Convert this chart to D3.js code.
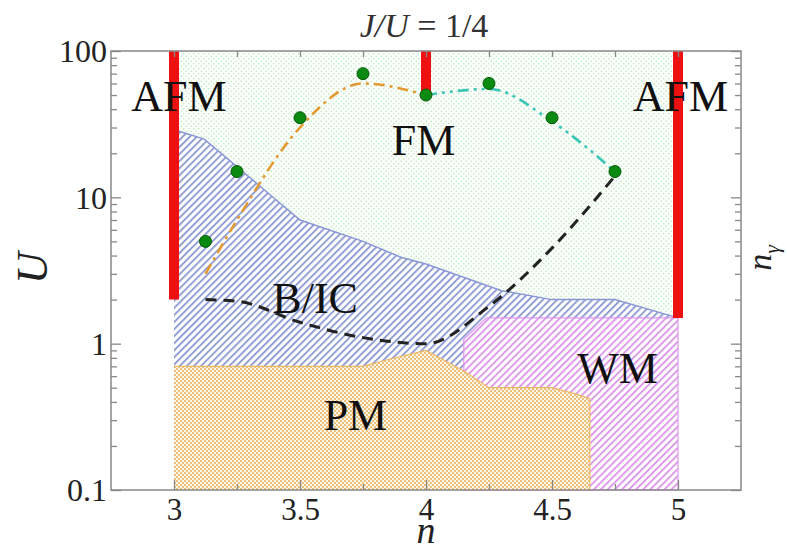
<!DOCTYPE html>
<html><head><meta charset="utf-8">
<script src="https://cdn.jsdelivr.net/npm/d3@7"></script>
<style>body{margin:0;background:#fff} svg{display:block} text{font-family:"Liberation Serif","Times New Roman",serif}</style>
</head><body><svg id="c" width="787" height="550"></svg>
<script>
// ---- data ----
const xTicks = [3, 3.5, 4, 4.5, 5];
const xTickLabels = ["3", "3.5", "4", "4.5", "5"];
const xMinor = [3.25, 3.75, 4.25, 4.75];
const yTicks = [0.1, 1, 10, 100];
const yTickLabels = ["0.1", "1", "10", "100"];
const dotN = [3.125, 3.25, 3.5, 3.75, 4, 4.25, 4.5, 4.75];
const dotU = [5, 15, 35, 70, 50, 60, 35, 15];
const orangeN = [3.125, 3.25, 3.5, 3.75, 4];
const orangeU = [3, 7, 30, 60, 50];
const cyanN = [4, 4.25, 4.5, 4.75];
const cyanU = [50, 55, 33, 15];
const blackN = [3.125, 3.25, 3.5, 3.75, 4, 4.25, 4.5, 4.75];
const blackU = [2, 1.95, 1.4, 1.1, 1.0, 1.8, 4.5, 14];
const bicTopN = [3, 3.12, 3.5, 3.75, 3.9, 4, 4.3, 4.5, 4.75, 5];
const bicTopU = [29, 25, 7, 5, 3.9, 3.5, 2.3, 2.0, 2.0, 1.5];
const pmTopN = [3, 3.75, 3.85, 4, 4.15, 4.25, 4.5, 4.6, 4.65];
const pmTopU = [0.7, 0.7, 0.78, 0.9, 0.65, 0.5, 0.5, 0.45, 0.42];
const wmN = [4.15, 4.15, 4.24, 5, 5];
const wmU = [0.1, 1.07, 1.5, 1.5, 0.1];
const afmN = [3, 4, 5];
const afmUmin = [2, 50, 1.5];
const regionLabels = ["AFM", "AFM", "FM", "B/IC", "WM", "PM"];
const labelN = [3.02, 5.01, 3.99, 3.56, 4.76, 3.72];
const labelU = [39, 39, 19.4, 1.62, 0.54, 0.257];

// ---- scales ----
const svg = d3.select("#c");
const L = 111, R = 741, T = 51, B = 490;
const x = d3.scaleLinear().domain([2.75, 5.25]).range([L, R]);
const y = d3.scaleLog().domain([0.1, 100]).range([B, T]);

// ---- patterns ----
const defs = svg.append("defs");
const pFM = defs.append("pattern").attr("id", "pFM").attr("patternUnits", "userSpaceOnUse").attr("width", 5).attr("height", 5);
pFM.append("rect").attr("width", 5).attr("height", 5).attr("fill", "#fcfffc");
pFM.append("circle").attr("cx", 1.25).attr("cy", 1.25).attr("r", 0.75).attr("fill", "#b4e6b4");
pFM.append("circle").attr("cx", 3.75).attr("cy", 3.75).attr("r", 0.75).attr("fill", "#b4e6b4");

function hatch(id, col) {
  const p = defs.append("pattern").attr("id", id).attr("patternUnits", "userSpaceOnUse")
    .attr("width", 5).attr("height", 5).attr("patternTransform", "rotate(45)");
  p.append("rect").attr("width", 5).attr("height", 5).attr("fill", "#fff");
  p.append("rect").attr("x", 0).attr("y", 0).attr("width", 1.7).attr("height", 5).attr("fill", col);
}
hatch("pBIC", "#8492cf");
hatch("pWM", "#d98ee8");
const pPM = defs.append("pattern").attr("id", "pPM").attr("patternUnits", "userSpaceOnUse").attr("width", 4).attr("height", 4);
pPM.append("rect").attr("width", 4).attr("height", 4).attr("fill", "#fdf7ec");
pPM.append("rect").attr("x", 0).attr("y", 0).attr("width", 2).attr("height", 2).attr("fill", "#eec078");
pPM.append("rect").attr("x", 2).attr("y", 2).attr("width", 2).attr("height", 2).attr("fill", "#eec078");

// ---- regions ----
const area = d3.line().x(d => x(d[0])).y(d => y(d[1]));
svg.append("path").attr("d", area([[3, 0.1], [3, 100], [5, 100], [5, 0.1]]) + "Z").attr("fill", "url(#pFM)");

const bicPts = bicTopN.map((n, i) => [n, bicTopU[i]]);
svg.append("path").attr("d", area([[3, 0.1], ...bicPts, [5, 0.1]]) + "Z").attr("fill", "url(#pBIC)");
svg.append("path").attr("d", area(bicPts)).attr("fill", "none").attr("stroke", "#8a96d6").attr("stroke-width", 1.5);

const wmPts = wmN.map((n, i) => [n, wmU[i]]);
svg.append("path").attr("d", area(wmPts) + "Z").attr("fill", "url(#pWM)").attr("stroke", "#de96ee").attr("stroke-width", 1.2);

const pmPts = pmTopN.map((n, i) => [n, pmTopU[i]]);
svg.append("path").attr("d", area([[3, 0.1], ...pmPts, [4.65, 0.1]]) + "Z").attr("fill", "url(#pPM)");
svg.append("path").attr("d", area([...pmPts, [4.65, 0.1]])).attr("fill", "none").attr("stroke", "#efb868").attr("stroke-width", 1.2);

// ---- AFM bars ----
svg.selectAll(".afm").data(afmN).enter().append("line")
  .attr("x1", d => x(d)).attr("x2", d => x(d))
  .attr("y1", y(100)).attr("y2", (d, i) => y(afmUmin[i]))
  .attr("stroke", "#ee1111").attr("stroke-width", 10);

// ---- lines ----
const curve = d3.line().x(d => x(d[0])).y(d => y(d[1])).curve(d3.curveMonotoneX);
svg.append("path").attr("d", curve(orangeN.map((n, i) => [n, orangeU[i]])))
  .attr("fill", "none").attr("stroke", "#e39a33").attr("stroke-width", 2.6).attr("stroke-dasharray", "11,5,3,5");
svg.append("path").attr("d", curve(cyanN.map((n, i) => [n, cyanU[i]])))
  .attr("fill", "none").attr("stroke", "#3cc4b8").attr("stroke-width", 2.6).attr("stroke-dasharray", "11,5,3,5,3,5");
svg.append("path").attr("d", curve(blackN.map((n, i) => [n, blackU[i]])))
  .attr("fill", "none").attr("stroke", "#222").attr("stroke-width", 3).attr("stroke-dasharray", "11,7");

// ---- dots ----
svg.selectAll(".dot").data(dotN).enter().append("circle")
  .attr("cx", d => x(d)).attr("cy", (d, i) => y(dotU[i])).attr("r", 6)
  .attr("fill", "#0b8a12").attr("stroke", "#045a08").attr("stroke-width", 1);

// ---- region labels ----
svg.selectAll(".lab").data(regionLabels).enter().append("text")
  .attr("x", (d, i) => x(labelN[i])).attr("y", (d, i) => y(labelU[i]))
  .attr("text-anchor", "middle").attr("font-size", 44)
  .attr("fill", "#111").text(d => d);

// ---- axes ----
const axG = svg.append("g");
function styleAx(g) {
  g.select(".domain").remove();
  g.selectAll("line").attr("stroke", "#888").attr("stroke-width", 1.3);
  g.selectAll("text").attr("fill", "#222").attr("font-family", null);
}
const yMinor = [];
[0.1, 1, 10].forEach(b => { for (let k = 2; k <= 9; k++) yMinor.push(b * k); });

// left
axG.append("g").attr("transform", `translate(${L},0)`)
  .call(d3.axisLeft(y).tickValues(yTicks).tickFormat((d, i) => yTickLabels[i]).tickSizeInner(-10).tickSizeOuter(0).tickPadding(4))
  .call(styleAx).call(g => g.selectAll("text").attr("font-size", 32).attr("dy", "0.34em"));
axG.append("g").attr("transform", `translate(${L},0)`)
  .call(d3.axisLeft(y).tickValues(yMinor).tickFormat("").tickSizeInner(-6).tickSizeOuter(0)).call(styleAx);
// right
axG.append("g").attr("transform", `translate(${R},0)`)
  .call(d3.axisRight(y).tickValues(yTicks).tickFormat("").tickSizeInner(-10).tickSizeOuter(0)).call(styleAx);
axG.append("g").attr("transform", `translate(${R},0)`)
  .call(d3.axisRight(y).tickValues(yMinor).tickFormat("").tickSizeInner(-6).tickSizeOuter(0)).call(styleAx);
// bottom
axG.append("g").attr("transform", `translate(0,${B})`)
  .call(d3.axisBottom(x).tickValues(xTicks).tickFormat((d, i) => xTickLabels[i]).tickSizeInner(-10).tickSizeOuter(0).tickPadding(8))
  .call(styleAx).call(g => g.selectAll("text").attr("font-size", 31));
axG.append("g").attr("transform", `translate(0,${B})`)
  .call(d3.axisBottom(x).tickValues(xMinor).tickFormat("").tickSizeInner(-6).tickSizeOuter(0)).call(styleAx);
// top
axG.append("g").attr("transform", `translate(0,${T})`)
  .call(d3.axisTop(x).tickValues(xTicks.concat(xMinor)).tickFormat("").tickSizeInner(-6).tickSizeOuter(0)).call(styleAx);

// frame
svg.append("rect").attr("x", L).attr("y", T).attr("width", R - L).attr("height", B - T)
  .attr("fill", "none").attr("stroke", "#888").attr("stroke-width", 1.5);

// ---- titles ----
const title = svg.append("text").attr("x", 424).attr("y", 37).attr("text-anchor", "middle")
  .attr("font-size", 34).attr("fill", "#333");
title.append("tspan").attr("font-style", "italic").text("J/U");
title.append("tspan").text(" = 1/4");

svg.append("text").attr("x", x(4)).attr("y", 543).attr("text-anchor", "middle")
  .attr("font-style", "italic").attr("font-size", 38).attr("fill", "#222").text("n");

svg.append("text").attr("transform", `translate(47,268) rotate(-90)`).attr("text-anchor", "middle")
  .attr("font-style", "italic").attr("font-size", 44).attr("fill", "#222").text("U");

const ng = svg.append("text").attr("transform", `translate(771,258) rotate(-90)`).attr("text-anchor", "middle")
  .attr("font-style", "italic").attr("font-size", 34).attr("fill", "#222");
ng.append("tspan").text("n");
ng.append("tspan").attr("font-size", 22).attr("dy", 8).text("γ");
</script></body></html>
